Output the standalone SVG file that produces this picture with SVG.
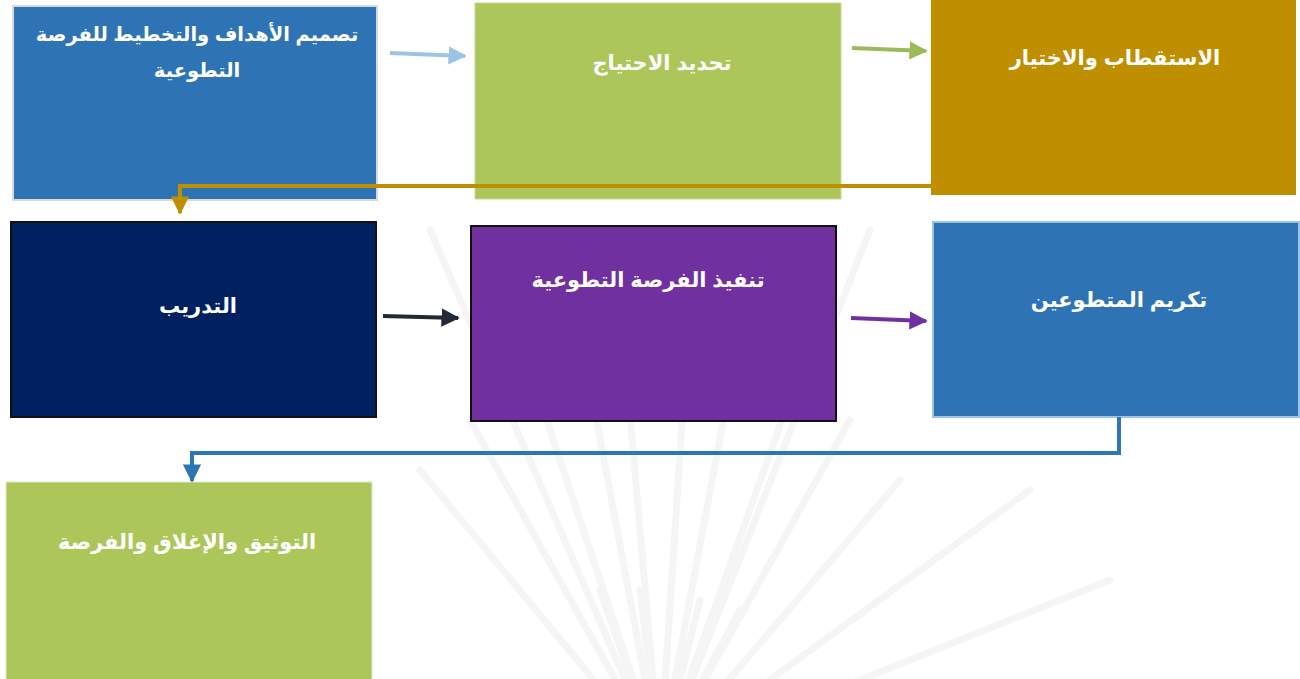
<svg xmlns="http://www.w3.org/2000/svg" width="1300" height="679" viewBox="0 0 1300 679">
<style>
.lbl{font-family:"Liberation Sans","DejaVu Sans","Noto Sans",sans-serif;font-weight:bold;font-size:21px;fill:#ffffff;text-anchor:middle}
.sm{font-size:19.5px}
.ray{fill:none;stroke:#f5f5f5;stroke-width:7;stroke-linecap:round}
.conn{fill:none;stroke-width:4}
</style>
<defs>
<marker id="mLB" viewBox="0 0 10 10" refX="9" refY="5" markerWidth="4.6" markerHeight="4.6" orient="auto"><path d="M0,0L10,5L0,10z" fill="#9DC3E6"/></marker>
<marker id="mG" viewBox="0 0 10 10" refX="9" refY="5" markerWidth="4.6" markerHeight="4.6" orient="auto"><path d="M0,0L10,5L0,10z" fill="#9BBB59"/></marker>
<marker id="mGold" viewBox="0 0 10 10" refX="9" refY="5" markerWidth="4.6" markerHeight="4.6" orient="auto"><path d="M0,0L10,5L0,10z" fill="#BF8F00"/></marker>
<marker id="mD" viewBox="0 0 10 10" refX="9" refY="5" markerWidth="4.6" markerHeight="4.6" orient="auto"><path d="M0,0L10,5L0,10z" fill="#222A35"/></marker>
<marker id="mP" viewBox="0 0 10 10" refX="9" refY="5" markerWidth="4.6" markerHeight="4.6" orient="auto"><path d="M0,0L10,5L0,10z" fill="#7030A0"/></marker>
<marker id="mB" viewBox="0 0 10 10" refX="9" refY="5" markerWidth="4.6" markerHeight="4.6" orient="auto"><path d="M0,0L10,5L0,10z" fill="#2E75B6"/></marker>
</defs>
<rect width="1300" height="679" fill="#ffffff"/>
<g id="watermark">
<path class="ray" d="M660,760L580,330"/>
<path class="ray" d="M660,760L620,300"/>
<path class="ray" d="M660,760L690,300"/>
<path class="ray" d="M660,760L740,330"/>
<path class="ray" d="M660,760L800,370"/>
<path class="ray" d="M660,760L850,420"/>
<path class="ray" d="M660,760L900,480"/>
<path class="ray" d="M660,760L1030,490"/>
<path class="ray" d="M660,760L1110,580"/>
<path class="ray" d="M660,760L530,370"/>
<path class="ray" d="M660,760L470,420"/>
<path class="ray" d="M660,760L420,470"/>
<path class="ray" d="M660,760L430,230"/>
<path class="ray" d="M660,760L870,230"/>
<path class="ray" d="M660,760L600,590"/>
<path class="ray" d="M660,760L640,590"/>
<path class="ray" d="M660,760L700,600"/>
<path class="ray" d="M660,760L740,610"/>
</g>
<g id="n1"><rect x="13" y="6" width="364" height="194" fill="#2E74B5" stroke="#D9D9D9" stroke-width="2"/>
<text class="lbl sm" x="197" y="41">تصميم الأهداف والتخطيط للفرصة</text>
<text class="lbl sm" x="197" y="77">التطوعية</text></g>
<g id="n2"><rect x="475" y="3" width="366" height="196" fill="#ADC65A" stroke="#C5D89A" stroke-width="1"/>
<text class="lbl" x="662" y="70">تحديد الاحتياج</text></g>
<g id="n3"><rect x="931" y="0" width="365" height="195" fill="#BF8F00"/>
<text class="lbl" x="1115" y="65">الاستقطاب والاختيار</text></g>
<g id="n4"><rect x="11" y="222" width="365" height="195" fill="#002060" stroke="#111111" stroke-width="2"/>
<text class="lbl" x="198" y="313">التدريب</text></g>
<g id="n5"><rect x="471" y="226" width="365" height="195" fill="#7030A0" stroke="#111111" stroke-width="2"/>
<text class="lbl" x="648" y="287">تنفيذ الفرصة التطوعية</text></g>
<g id="n6"><rect x="933" y="222" width="366" height="195" fill="#2E74B5" stroke="#9DC3E6" stroke-width="2"/>
<text class="lbl" x="1119" y="307">تكريم المتطوعين</text></g>
<g id="n7"><rect x="6" y="482" width="366" height="200" fill="#ADC65A" stroke="#E2EBC8" stroke-width="1"/>
<text class="lbl" x="187" y="549">التوثيق والإغلاق والفرصة</text></g>
<g id="connectors">
<path class="conn" d="M390,53L465,56" stroke="#9DC3E6" marker-end="url(#mLB)"/>
<path class="conn" d="M852,48L926,51" stroke="#9BBB59" marker-end="url(#mG)"/>
<path class="conn" d="M931,186H180V213" stroke="#BF8F00" marker-end="url(#mGold)"/>
<path class="conn" d="M383,316L458,318" stroke="#222A35" marker-end="url(#mD)"/>
<path class="conn" d="M851,318L926,321" stroke="#7030A0" marker-end="url(#mP)"/>
<path class="conn" d="M1119,417V453H192V481" stroke="#2E75B6" marker-end="url(#mB)"/>
</g>
</svg>
